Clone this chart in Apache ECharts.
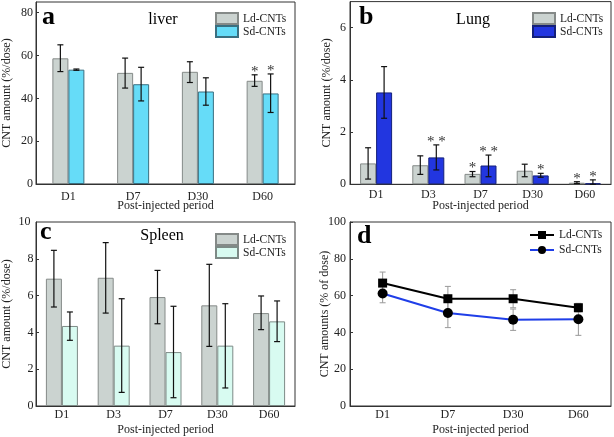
<!DOCTYPE html>
<html>
<head>
<meta charset="utf-8">
<script src="https://cdn.jsdelivr.net/npm/echarts@6/dist/echarts.min.js"></script>
<style>html,body{margin:0;padding:0;background:#fff}#c{width:614px;height:437px}</style>
</head>
<body>
<div id="c"></div>
<script>
// ---------- Panel a (liver) ----------
const catA = ['D1', 'D7', 'D30', 'D60'];
const ldA = [58.7, 51.9, 52.4, 48.2];
const ldAHi = [65.0, 58.8, 57.1, 51.0];
const ldALo = [52.5, 44.8, 47.4, 45.6];
const sdA = [53.4, 46.6, 43.2, 42.3];
const sdAHi = [53.7, 54.5, 49.6, 51.4];
const sdALo = [53.1, 38.8, 36.8, 33.4];
const ldAStar = ['', '', '', '*'];
const sdAStar = ['', '', '', '*'];

// ---------- Panel b (lung) ----------
const catB = ['D1', 'D3', 'D7', 'D30', 'D60'];
const ldB = [0.80, 0.73, 0.40, 0.52, 0.06];
const ldBHi = [1.40, 1.09, 0.49, 0.77, 0.10];
const ldBLo = [0.20, 0.38, 0.29, 0.29, 0.03];
const sdB = [3.52, 1.03, 0.72, 0.34, 0.04];
const sdBHi = [4.51, 1.51, 1.12, 0.42, 0.17];
const sdBLo = [2.53, 0.55, 0.29, 0.27, 0.00];
const ldBStar = ['', '', '*', '', '*'];
const sdBStar = ['', '* *', '* *', '*', '*'];

// ---------- Panel c (spleen) ----------
const catC = ['D1', 'D3', 'D7', 'D30', 'D60'];
const ldC = [6.92, 6.97, 5.92, 5.47, 5.05];
const ldCHi = [8.46, 8.88, 7.37, 7.70, 5.98];
const ldCLo = [5.38, 5.05, 4.47, 3.24, 4.15];
const sdC = [4.35, 3.28, 2.93, 3.28, 4.60];
const sdCHi = [5.11, 5.83, 5.42, 5.56, 5.71];
const sdCLo = [3.57, 0.74, 0.45, 0.98, 3.50];
const yTopC = 10;

// ---------- Panel d (total) ----------
const catD = ['D1', 'D7', 'D30', 'D60'];
const ldD = [66.8, 58.3, 58.3, 53.4];
const ldDErr = [6.0, 6.7, 4.9, 2.2];
const sdD = [61.1, 50.5, 46.9, 47.1];
const sdDErr = [5.0, 7.9, 5.8, 8.7];

const FONT = "'Liberation Serif', 'Times New Roman', serif";
const FRAME = '#333';
const LD_FILL = '#cbd3d0', LD_BORDER = '#858a88';

function errSeries(g, cats, lo, hi, stars, offset, color, cap, lw) {
  return {
    type: 'custom', xAxisIndex: g, yAxisIndex: g, z: 5, silent: true,
    data: cats.map((c, i) => [i, lo[i], hi[i]]),
    renderItem(params, api) {
      const i = api.value(0);
      const x = api.coord([i, 0])[0] + offset;
      const yHi = api.coord([i, api.value(2)])[1];
      const yLo = api.coord([i, api.value(1)])[1];
      const st = { stroke: color, lineWidth: lw };
      const ch = [
        { type: 'line', shape: { x1: x, y1: yHi, x2: x, y2: yLo }, style: st },
        { type: 'line', shape: { x1: x - cap, y1: yHi, x2: x + cap, y2: yHi }, style: st },
        { type: 'line', shape: { x1: x - cap, y1: yLo, x2: x + cap, y2: yLo }, style: st }
      ];
      const s = stars ? stars[params.dataIndex] : '';
      if (s) ch.push({ type: 'text', x: x, y: yHi - 3,
        style: { text: s, fill: '#333', font: '15px ' + FONT, align: 'center', verticalAlign: 'middle' } });
      return { type: 'group', children: ch };
    }
  };
}

function barSeries(g, name, data, fill, border) {
  return { type: 'bar', name: name, xAxisIndex: g, yAxisIndex: g, data: data,
    barWidth: 16, barGap: '0%',
    itemStyle: { color: fill, borderColor: border, borderWidth: 1, borderRadius: 0 } };
}

const grids = [
  { left: 33, top: 2, width: 262, height: 182 },
  { left: 350, top: 1.6, width: 261, height: 182.7 },
  { left: 33, top: 222, width: 262, height: 184 },
  { left: 350, top: 222, width: 261, height: 184 }
].map(g => Object.assign(g, { show: true, borderColor: FRAME, borderWidth: 1, containLabel: false }));

function xAxis(g, cats, margin, gap) {
  return { type: 'category', gridIndex: g, data: cats, boundaryGap: true,
    axisLine: { lineStyle: { color: FRAME } }, axisTick: { show: false },
    axisLabel: { color: '#222', fontFamily: FONT, fontSize: 12, margin: margin },
    name: 'Post-injected period', nameLocation: 'middle', nameGap: gap, nameMoveOverlap: false,
    nameTextStyle: { color: '#222', fontFamily: FONT, fontSize: 12 } };
}
function yAxis(g, max, interval, name, margin, gap, skipTop) {
  return { type: 'value', gridIndex: g, min: 0, max: max, interval: interval,
    splitLine: { show: false },
    axisLine: { show: true, lineStyle: { color: FRAME } },
    axisTick: { show: true, inside: true, length: 3, lineStyle: { color: FRAME } },
    axisLabel: { color: '#222', fontFamily: FONT, fontSize: 12, margin: margin,
      showMaxLabel: false, hideOverlap: false,
      formatter: v => {
        if (skipTop && Math.abs(v - skipTop) < 1e-3) return '';
        return Math.abs(v / interval - Math.round(v / interval)) < 1e-6 ? String(Math.round(v)) : '';
      } },
    name: name, nameLocation: 'middle', nameGap: gap, nameMoveOverlap: false,
    nameTextStyle: { color: '#222', fontFamily: FONT, fontSize: 12 } };
}

function legend(left, top, names, w, h, gap, icon) {
  const l = { left: left, top: top, orient: 'vertical', padding: 0, itemGap: gap,
    itemWidth: w, itemHeight: h, selectedMode: false, data: names,
    formatter: n => n.split(':')[1],
    textStyle: { color: '#222', fontFamily: FONT, fontSize: 11.5, lineHeight: h } };
  if (icon) l.icon = icon;
  return l;
}

const series = [
  barSeries(0, 'a:Ld-CNTs', ldA, LD_FILL, LD_BORDER),
  barSeries(0, 'a:Sd-CNTs', sdA, '#66dcf8', '#3a6f80'),
  errSeries(0, catA, ldALo, ldAHi, ldAStar, -8, '#111', 3, 1.2),
  errSeries(0, catA, sdALo, sdAHi, sdAStar, 8, '#111', 3, 1.2),

  barSeries(1, 'b:Ld-CNTs', ldB, LD_FILL, LD_BORDER),
  barSeries(1, 'b:Sd-CNTs', sdB, '#2236e0', '#14207a'),
  errSeries(1, catB, ldBLo, ldBHi, ldBStar, -8, '#111', 3, 1.2),
  errSeries(1, catB, sdBLo, sdBHi, sdBStar, 8, '#111', 3, 1.2),

  barSeries(2, 'c:Ld-CNTs', ldC, LD_FILL, LD_BORDER),
  barSeries(2, 'c:Sd-CNTs', sdC, '#d8fbf1', '#7d8a86'),
  errSeries(2, catC, ldCLo, ldCHi, null, -8, '#111', 3, 1.2),
  errSeries(2, catC, sdCLo, sdCHi, null, 8, '#111', 3, 1.2),

  errSeries(3, catD, ldD.map((v, i) => v - ldDErr[i]), ldD.map((v, i) => v + ldDErr[i]), null, 0, '#999', 3, 1),
  errSeries(3, catD, sdD.map((v, i) => v - sdDErr[i]), sdD.map((v, i) => v + sdDErr[i]), null, 0, '#999', 3, 1),
  { type: 'line', name: 'd:Ld-CNTs', xAxisIndex: 3, yAxisIndex: 3, data: ldD, z: 6,
    symbol: 'rect', symbolSize: 9, itemStyle: { color: '#000' }, lineStyle: { color: '#000', width: 2 } },
  { type: 'line', name: 'd:Sd-CNTs', xAxisIndex: 3, yAxisIndex: 3, data: sdD, z: 6,
    symbol: 'circle', symbolSize: 10, itemStyle: { color: '#000' }, lineStyle: { color: '#1f3ee8', width: 2 } }
];

function label(txt, x, y, size, bold, align, color) {
  return { type: 'text', x: x, y: y, z: 20,
    style: { text: txt, fill: color || '#000', font: (bold ? 'bold ' : '') + size + 'px ' + FONT,
      align: align || 'left', verticalAlign: 'middle' } };
}

const option = {
  animation: false,
  backgroundColor: '#fff',
  grid: grids,
  xAxis: [xAxis(0, catA, 6.5, 16), xAxis(1, catB, 5, 16), xAxis(2, catC, 2.5, 18), xAxis(3, catD, 3, 18)],
  yAxis: [
    yAxis(0, 85, 20, 'CNT amount (%/dose)', 3, 23),
    yAxis(1, 7, 2, 'CNT amount (%/dose)', 4, 17),
    yAxis(2, yTopC, 2, 'CNT amount (%/dose)', 2.5, 23, yTopC),
    yAxis(3, 100.001, 20, 'CNT amounts (% of dose)', 4, 19)
  ],
  legend: [
    legend(215, 12, ['a:Ld-CNTs', 'a:Sd-CNTs'], 22, 11, 0, 'rect'),
    legend(532, 12, ['b:Ld-CNTs', 'b:Sd-CNTs'], 22, 11, 0, 'rect'),
    legend(215, 233, ['c:Ld-CNTs', 'c:Sd-CNTs'], 22, 11, 0, 'rect'),
    legend(529, 229, ['d:Ld-CNTs', 'd:Sd-CNTs'], 24, 10, 3)
  ],
  graphic: [
    label('a', 42, 17, 26, true), label('liver', 163, 19.5, 16, false, 'center'),
    label('b', 359, 17, 26, true), label('Lung', 473, 20, 16, false, 'center'),
    label('c', 40, 232, 26, true), label('Spleen', 162, 235.5, 16, false, 'center'),
    label('d', 357, 236, 26, true),
    // top tick label of panel c's value axis
    label(String(yTopC), 30.5, 222, 12, false, 'right', '#222')
  ],
  series: series
};

const chart = echarts.init(document.getElementById('c'), null, { renderer: 'canvas' });
chart.setOption(option);
</script>
</body>
</html>
